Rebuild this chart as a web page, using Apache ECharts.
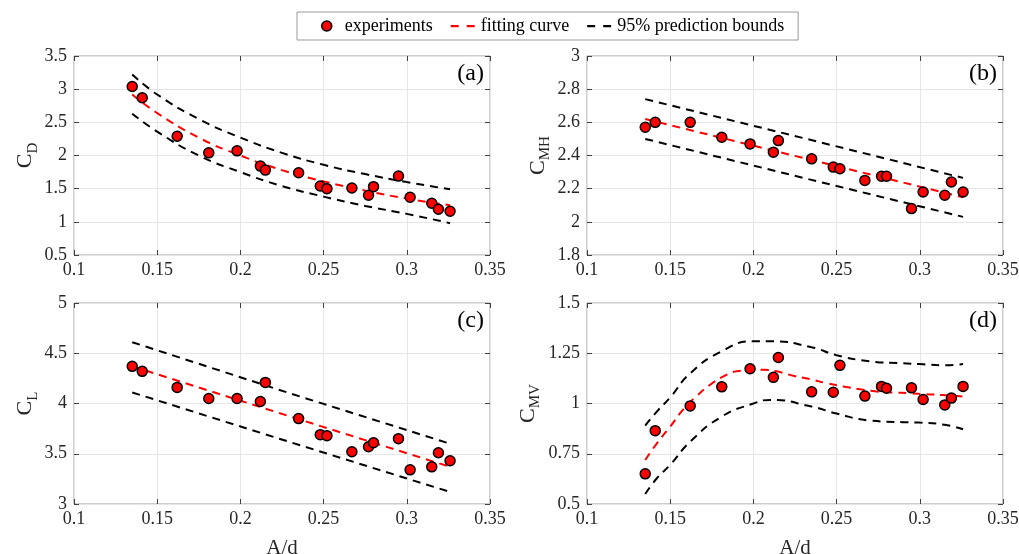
<!DOCTYPE html>
<html><head><meta charset="utf-8">
<script src="https://cdn.jsdelivr.net/npm/echarts@6/dist/echarts.min.js"></script>
<style>html,body{margin:0;padding:0;background:#fff}#c{width:1019px;height:554px}</style>
</head><body><div id="c"></div>
<script>
// Shared x values (A/d)
const xExp = [0.135,0.141,0.162,0.181,0.198,0.212,0.215,0.235,0.248,0.252,0.267,0.277,0.280,0.295,0.302,0.315,0.319,0.326];
// (a) C_D
const cdExp = [3.04,2.87,2.29,2.04,2.07,1.84,1.78,1.74,1.54,1.50,1.51,1.40,1.53,1.69,1.37,1.28,1.19,1.16];
const cdX   = [0.135,0.15,0.175,0.2,0.225,0.25,0.275,0.3,0.326];
const cdFit = [2.92,2.64,2.27,2.00,1.78,1.61,1.47,1.35,1.25];
const cdUp  = [3.22,2.92,2.55,2.27,2.04,1.86,1.72,1.60,1.49];
const cdLo  = [2.63,2.36,2.00,1.75,1.54,1.38,1.24,1.12,0.98];
// (b) C_MH
const cmhExp = [2.57,2.60,2.60,2.51,2.47,2.42,2.49,2.38,2.33,2.32,2.25,2.275,2.275,2.08,2.18,2.16,2.24,2.18];
const cmhX   = [0.135,0.23,0.326];
const cmhFit = [2.62,2.385,2.148];
const cmhUp  = [2.74,2.505,2.265];
const cmhLo  = [2.50,2.265,2.03];
// (c) C_L
const clExp = [4.37,4.32,4.16,4.05,4.05,4.02,4.21,3.85,3.69,3.68,3.52,3.57,3.61,3.65,3.34,3.37,3.51,3.43];
const clX   = [0.135,0.23,0.326];
const clFit = [4.37,3.87,3.37];
const clUp  = [4.61,4.10,3.60];
const clLo  = [4.11,3.615,3.12];
// (d) C_MV
const cmvExp = [0.65,0.865,0.988,1.083,1.173,1.13,1.229,1.058,1.056,1.19,1.037,1.085,1.076,1.078,1.02,0.993,1.027,1.085];
const cmvX   = [0.135,0.142,0.15,0.158,0.166,0.174,0.182,0.19,0.198,0.206,0.214,0.224,0.234,0.244,0.254,0.264,0.274,0.284,0.294,0.304,0.314,0.326];
const cmvFit = [0.719,0.802,0.885,0.972,1.038,1.093,1.135,1.16,1.165,1.168,1.16,1.138,1.121,1.101,1.085,1.071,1.06,1.055,1.051,1.046,1.042,1.035];
const cmvBX  = [0.135,0.142,0.15,0.162,0.181,0.2,0.21,0.235,0.25,0.27,0.29,0.3,0.315,0.326];
const cmvUp  = [0.89,0.96,1.03,1.15,1.26,1.31,1.31,1.28,1.24,1.21,1.20,1.196,1.19,1.196];
const cmvLo  = [0.55,0.628,0.695,0.81,0.935,1.0,1.018,0.985,0.95,0.915,0.907,0.905,0.894,0.872];

const panelLabels = ['(a)','(b)','(c)','(d)'];
const yNames = [['C','D'],['C','MH'],['C','L'],['C','MV']];
const yRanges = [[0.5,3.5,0.5],[1.8,3,0.2],[3,5,0.5],[0.5,1.5,0.25]];

const FONT = 'Liberation Serif';
const grids = [
  {left:74, top:56, width:416, height:199},
  {left:587, top:56, width:416, height:199},
  {left:74, top:303, width:416, height:201},
  {left:587, top:303, width:416, height:201}
];
const nameGaps = [33, 34, 33, 44];
const zip = (xs, ys) => xs.map((x,i)=>[x, ys[i]]);

const xAxes = [], yAxes = [], series = [];
grids.forEach((g,i)=>{
  g.show = true; g.borderColor = '#9a9a9a'; g.borderWidth = 1; g.backgroundColor = '#fff';
  g.containLabel = false; g.outerBoundsMode = 'none';
  const bottom = i >= 2;
  xAxes.push({gridIndex:i, type:'value', min:0.1, max:0.35, interval:0.05, position:'bottom',
    name: bottom ? 'A/d' : '', nameLocation:'middle', nameGap:34,
    nameTextStyle:{fontFamily:FONT, fontSize:21, color:'#262626'},
    axisLine:{show:false}, axisTick:{show:true, inside:true, length:5, lineStyle:{color:'#404040'}},
    axisLabel:{fontFamily:FONT, fontSize:18, color:'#262626', margin:6},
    splitLine:{show:true, lineStyle:{color:'#e6e6e6', width:1}}});
  xAxes.push({gridIndex:i, type:'value', min:0.1, max:0.35, interval:0.05, position:'top',
    axisLine:{show:false}, axisTick:{show:true, inside:true, length:5, lineStyle:{color:'#404040'}},
    axisLabel:{show:false}, splitLine:{show:false}});
  const r = yRanges[i];
  yAxes.push({gridIndex:i, type:'value', min:r[0], max:r[1], interval:r[2], position:'left',
    name:'{c|'+yNames[i][0]+'}{s|'+yNames[i][1]+'}', nameLocation:'middle', nameRotate:90, nameGap:nameGaps[i],
    nameTextStyle:{rich:{
      c:{fontFamily:FONT, fontSize:22, color:'#262626', lineHeight:30, verticalAlign:'middle'},
      s:{fontFamily:FONT, fontSize:15, color:'#262626', lineHeight:16, verticalAlign:'bottom', padding:[26,0,0,0]}}},
    axisLine:{show:false}, axisTick:{show:true, inside:true, length:5, lineStyle:{color:'#404040'}},
    axisLabel:{fontFamily:FONT, fontSize:18, color:'#262626', margin:7},
    splitLine:{show:true, lineStyle:{color:'#e6e6e6', width:1}}});
  yAxes.push({gridIndex:i, type:'value', min:r[0], max:r[1], interval:r[2], position:'right',
    axisLine:{show:false}, axisTick:{show:true, inside:true, length:5, lineStyle:{color:'#404040'}},
    axisLabel:{show:false}, splitLine:{show:false}});
});

const panels = [
  {exp:cdExp, fx:cdX, fit:cdFit, bx:cdX, up:cdUp, lo:cdLo, smooth:true},
  {exp:cmhExp, fx:cmhX, fit:cmhFit, bx:cmhX, up:cmhUp, lo:cmhLo, smooth:false},
  {exp:clExp, fx:clX, fit:clFit, bx:clX, up:clUp, lo:clLo, smooth:false},
  {exp:cmvExp, fx:cmvX, fit:cmvFit, bx:cmvBX, up:cmvUp, lo:cmvLo, smooth:true}
];
const dash = [8,6];
panels.forEach((p,i)=>{
  const xi = i*2, yi = i*2;
  const lineBase = {type:'line', xAxisIndex:xi, yAxisIndex:yi, symbol:'none', smooth:p.smooth, silent:true, animation:false};
  series.push(Object.assign({}, lineBase, {name:'95% prediction bounds', data:zip(p.bx,p.up), z:2,
    lineStyle:{color:'#000', width:2, type:dash}, itemStyle:{color:'#000'}}));
  series.push(Object.assign({}, lineBase, {name:'95% prediction bounds', data:zip(p.bx,p.lo), z:2,
    lineStyle:{color:'#000', width:2, type:dash}, itemStyle:{color:'#000'}}));
  series.push(Object.assign({}, lineBase, {name:'fitting curve', data:zip(p.fx,p.fit), z:3,
    lineStyle:{color:'#ff0000', width:2, type:dash}, itemStyle:{color:'#ff0000'}}));
  series.push({type:'scatter', name:'experiments', xAxisIndex:xi, yAxisIndex:yi, data:zip(xExp,p.exp),
    symbol:'circle', symbolSize:10, z:5, animation:false,
    itemStyle:{color:'#ff0000', opacity:1, borderColor:'#000', borderWidth:1.5}});
});

const graphics = panelLabels.map((t,i)=>({type:'text', right: (i%2===0) ? 1019-484 : 1019-997,
  top: grids[i].top + 6, style:{text:t, font:'24px "Liberation Serif"', fill:'#000', textAlign:'right'}, z:10}));

const dashIcon = 'path://M0,0h0.01v0.01h-0.01z M26,10h0.01v0.01h-0.01z M1,4h8v2.2h-8z M17,4h8v2.2h-8z';
const chart = echarts.init(document.getElementById('c'), null, {renderer:'canvas'});
chart.setOption({
  animation:false,
  grid: grids,
  xAxis: xAxes,
  yAxis: yAxes,
  series: series,
  graphic: graphics,
  legend: {
    data:[{name:'experiments', icon:'circle', itemStyle:{color:'#ff0000', opacity:1, borderColor:'#000', borderWidth:1.5}},
          {name:'fitting curve', icon:dashIcon, itemStyle:{color:'#ff0000', borderWidth:0}},
          {name:'95% prediction bounds', icon:dashIcon, itemStyle:{color:'#000', borderWidth:0}}],
    left:297, top:12, padding:[5,14,5,24], itemGap:17, itemWidth:26, itemHeight:10,
    backgroundColor:'#fff', borderColor:'#999', borderWidth:1, borderRadius:0,
    textStyle:{fontFamily:FONT, fontSize:18, color:'#000'}, selectedMode:false
  }
});
</script></body></html>
